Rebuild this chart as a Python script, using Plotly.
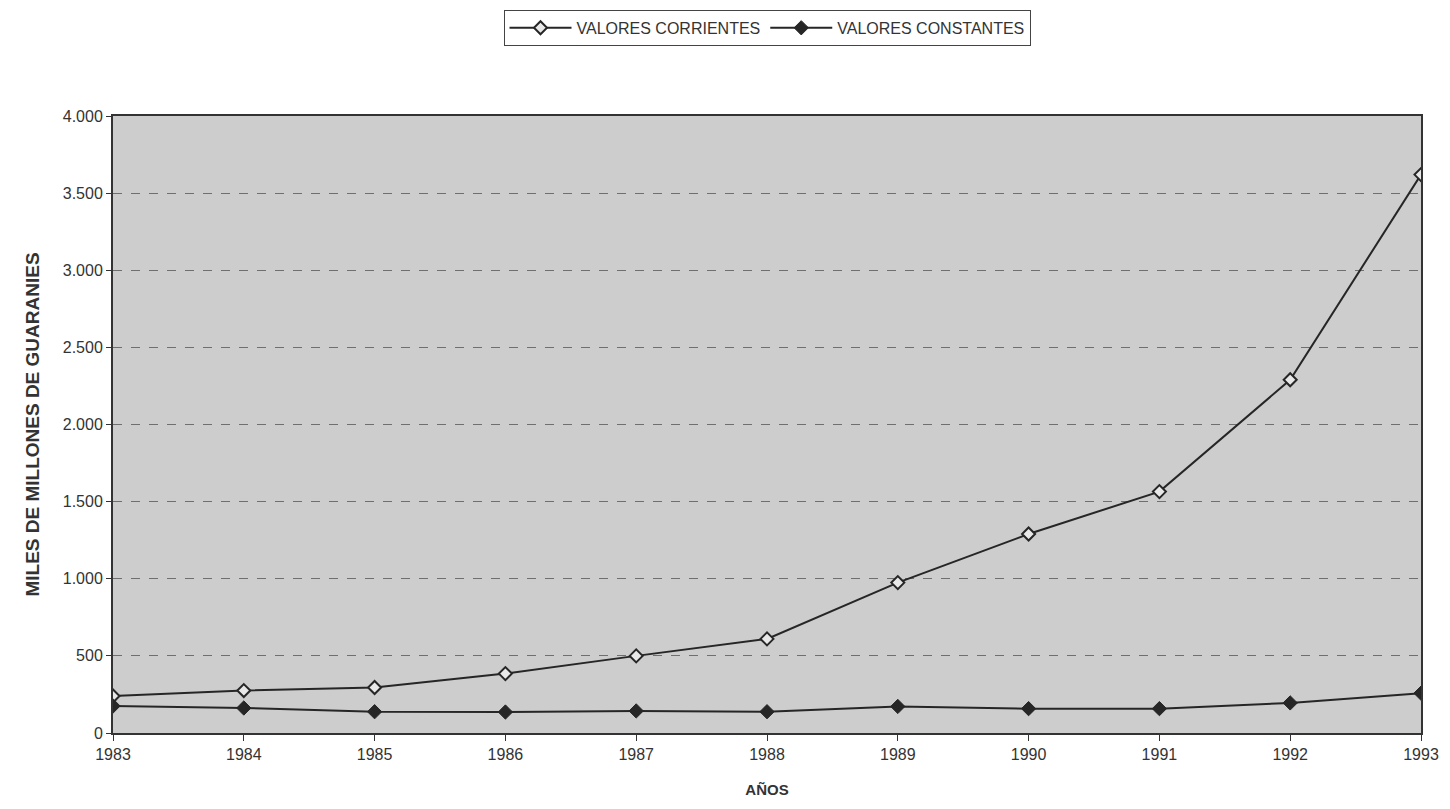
import plotly.graph_objects as go

years = [1983, 1984, 1985, 1986, 1987, 1988, 1989, 1990, 1991, 1992, 1993]
corrientes = [240, 275, 295, 385, 500, 610, 975, 1290, 1565, 2290, 3620]
constantes = [175, 162, 138, 136, 143, 138, 172, 158, 158, 195, 258]
ytick_vals = [0, 500, 1000, 1500, 2000, 2500, 3000, 3500, 4000]

fig = go.Figure()
fig.add_trace(go.Scatter(
    x=years, y=corrientes, name="VALORES CORRIENTES", mode="lines+markers",
    line=dict(color="#262626", width=2),
    marker=dict(symbol="diamond", size=10, color="#e8e8e8", line=dict(color="#262626", width=2)),
))
fig.add_trace(go.Scatter(
    x=years, y=constantes, name="VALORES CONSTANTES", mode="lines+markers",
    line=dict(color="#262626", width=2),
    marker=dict(symbol="diamond", size=11, color="#262626", line=dict(color="#262626", width=1)),
))

fig.update_layout(
    width=1450, height=809,
    margin=dict(l=105, r=37, t=108, b=84, autoexpand=False),
    paper_bgcolor="white",
    plot_bgcolor="#cdcdcd",
    separators=",.",
    font=dict(family="Liberation Sans, Arial, sans-serif", size=16, color="#333333"),
    showlegend=True,
    legend=dict(orientation="h", x=0.5, xanchor="center", y=1.172, yanchor="top",
                bordercolor="#444444", borderwidth=1, bgcolor="white",
                font=dict(size=16, color="#333333"), itemwidth=62,
                tracegroupgap=0),
)
fig.update_xaxes(
    range=[1983, 1993], tickvals=years, ticktext=[str(y) for y in years],
    showgrid=False, showline=True, linecolor="#333333", linewidth=2, mirror=True,
    ticks="outside", ticklen=6, tickcolor="#333333",
    title=dict(text="<b>AÑOS</b>", font=dict(size=15), standoff=22),
    zeroline=False,
)
fig.update_yaxes(
    range=[0, 4000], tickvals=ytick_vals, tickformat=",d",
    showgrid=True, gridcolor="#6f6f6f", griddash="dash", gridwidth=1,
    showline=True, linecolor="#333333", linewidth=2, mirror=True,
    ticks="outside", ticklen=5, tickcolor="#333333",
    title=dict(text="<b>MILES DE MILLONES DE GUARANIES</b>", font=dict(size=19), standoff=18),
    zeroline=False,
)

fig.write_html("out.html")
